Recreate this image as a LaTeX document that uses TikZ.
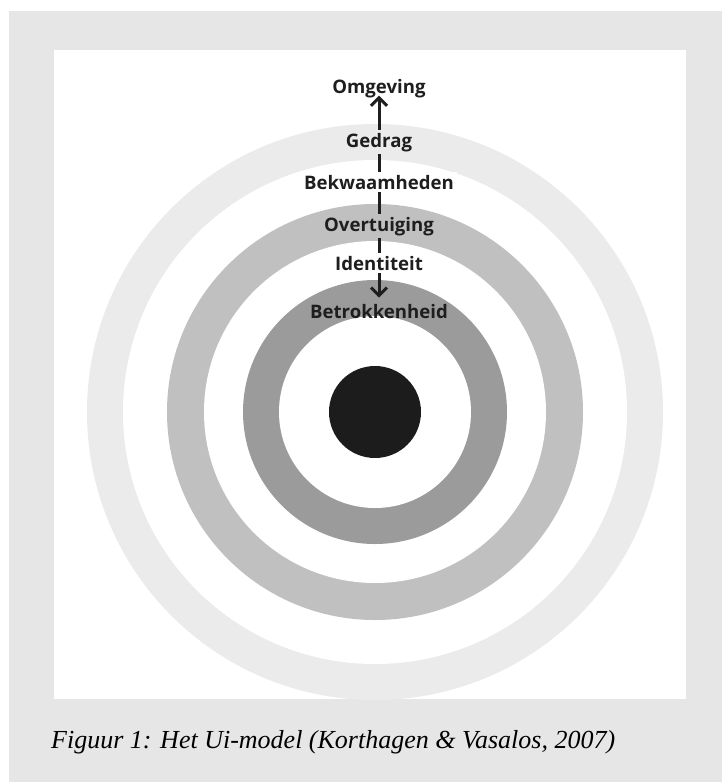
\documentclass[tikz,border=0pt]{standalone}
\usepackage{fontspec}
\setmainfont{Liberation Serif}
\newfontfamily\levelfont{Open Sans}
\usetikzlibrary{arrows.meta}
\definecolor{pagegrey}{HTML}{E6E6E6}
\definecolor{ringlight}{HTML}{EBEBEB}
\definecolor{ringmid}{HTML}{C0C0C0}
\definecolor{ringdark}{HTML}{9B9B9B}
\definecolor{corefill}{HTML}{1C1C1C}
\definecolor{labeltext}{HTML}{1E1E1E}

\begin{document}
\begin{tikzpicture}[
  x=1pt, y=-1pt,
  level/.style={font=\levelfont\bfseries\fontsize{18.6}{22}\selectfont, text=labeltext, inner sep=0pt, anchor=base},
  levelbox/.style={level, inner sep=3pt},
  updown/.style={{Straight Barb[length=8pt,width=16pt,line width=3pt]}-{Straight Barb[length=8pt,width=16pt,line width=3pt]}, line width=3pt, labeltext},
  caption/.style={font=\itshape\fontsize{26}{30}\selectfont, anchor=base west, inner sep=0pt}
]
  % achtergrond en paneel
  \useasboundingbox (0,0) rectangle (722,782);
  \fill[white] (0,0) rectangle (722,782);
  \fill[pagegrey] (9,11) rectangle (722,782);
  \fill[white] (54,50) rectangle (686,699);

  % ringen van buiten naar binnen
  \foreach \r/\c in {288/ringlight, 252/white, 208/ringmid, 171/white, 132/ringdark, 96/white, 46/corefill}
    \fill[\c] (375,412) circle (\r);

  % niveaus
  \node[level] (omg) at (379,93) {Omgeving};
  \node[level, inner ysep=6pt] (betr) at (379,318) {Betrokkenheid};
  \draw[updown, shorten <=-2pt] (omg.south) -- (betr.north);

  \node[levelbox, fill=ringlight] (gedrag) at (379,147) {Gedrag};
  \node[levelbox, fill=white] (bekw) at (379,189) {Bekwaamheden};
  \node[levelbox, fill=ringmid] (overt) at (379,231) {Overtuiging};
  \node[levelbox, fill=white] (ident) at (379,270) {Identiteit};

  \node[caption] (caption) at (51,748) {Figuur 1: Het Ui-model (Korthagen \& Vasalos, 2007)};
\end{tikzpicture}
\end{document}
